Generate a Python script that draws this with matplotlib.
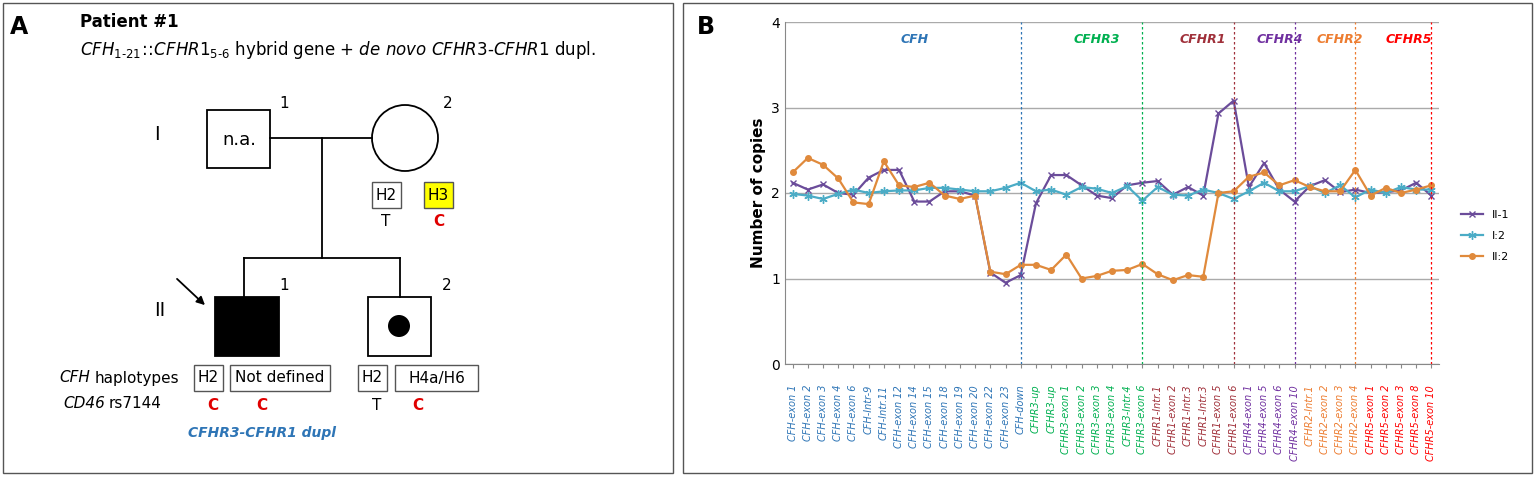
import matplotlib
matplotlib.use("Agg")
import matplotlib.pyplot as plt
from matplotlib.patches import Rectangle, Circle, FancyArrowPatch

labels = ["CFH-exon 1","CFH-exon 2","CFH-exon 3","CFH-exon 4","CFH-exon 6","CFH-Intr-9","CFH-Intr.11",
          "CFH-exon 12","CFH-exon 14","CFH-exon 15","CFH-exon 18","CFH-exon 19","CFH-exon 20","CFH-exon 22",
          "CFH-exon 23","CFH-down",
          "CFHR3-up","CFHR3-up","CFHR3-exon 1","CFHR3-exon 2","CFHR3-exon 3","CFHR3-exon 4","CFHR3-Intr.4","CFHR3-exon 6",
          "CFHR1-Intr.1","CFHR1-exon 2","CFHR1-Intr.3","CFHR1-Intr.3","CFHR1-exon 5","CFHR1-exon 6",
          "CFHR4-exon 1","CFHR4-exon 5","CFHR4-exon 6","CFHR4-exon 10",
          "CFHR2-Intr.1","CFHR2-exon 2","CFHR2-exon 3","CFHR2-exon 4",
          "CFHR5-exon 1","CFHR5-exon 2","CFHR5-exon 3","CFHR5-exon 8","CFHR5-exon 10"]
ii1 = [2.12,2.04,2.10,2.00,1.98,2.18,2.27,2.27,1.90,1.90,2.02,2.02,1.97,1.07,0.95,1.04,
       1.88,2.21,2.21,2.09,1.97,1.94,2.09,2.12,2.14,1.98,2.07,1.97,2.93,3.08,2.07,2.35,2.04,1.90,
       2.08,2.15,2.01,2.04,2.00,2.01,2.03,2.12,1.97]
i2 = [1.99,1.97,1.93,1.99,2.04,2.00,2.02,2.03,2.03,2.06,2.06,2.04,2.02,2.02,2.06,2.12,
      2.02,2.04,1.98,2.07,2.05,2.00,2.08,1.91,2.07,1.98,1.97,2.04,2.00,1.93,2.02,2.12,2.02,2.02,
      2.08,2.00,2.09,1.95,2.04,2.00,2.07,2.04,2.04]
ii2 = [2.24,2.41,2.33,2.17,1.89,1.87,2.37,2.09,2.07,2.12,1.97,1.93,1.97,1.08,1.05,1.16,
       1.16,1.10,1.28,1.00,1.03,1.09,1.10,1.17,1.05,0.98,1.04,1.02,2.00,2.02,2.19,2.24,2.09,2.15,
       2.07,2.02,2.02,2.27,1.97,2.06,2.00,2.04,2.09]
genes = ["CFH","CFHR3","CFHR1","CFHR4","CFHR2","CFHR5"]
gene_counts = [16,8,6,4,4,5]
gene_colors = ["#2E75B6","#00B050","#A0303A","#7030A0","#ED7D31","#FF0000"]

fig = plt.figure(figsize=(15.35,4.79), dpi=100)
W, H = 1535, 479
ov = fig.add_axes([0,0,1,1])
ov.set_xlim(0,W); ov.set_ylim(H,0); ov.axis("off")
ov.add_patch(Rectangle((3,3),670,470,fill=False,lw=1,ec="#555555"))
ov.add_patch(Rectangle((683,3),849,470,fill=False,lw=1,ec="#555555"))
ov.text(10,27,"A",fontsize=17,fontweight="bold",va="center")
ov.text(697,27,"B",fontsize=17,fontweight="bold",va="center")
ov.text(80,22,"Patient #1",fontsize=12,fontweight="bold",va="center")
ov.text(80,50,r"$\mathit{CFH}_{\mathit{1\text{-}21}}\!\mathit{:}\!\!\mathit{:}\!\mathit{CFHR1}_{5\text{-}6}$ hybrid gene + $\mathit{de\ novo\ CFHR3\text{-}CFHR1}$ dupl.",fontsize=12,va="center")
# pedigree
ov.add_patch(Rectangle((207,110),63,58,fill=False,lw=1.3))
ov.text(239,140,"n.a.",fontsize=13,ha="center",va="center")
ov.add_patch(Circle((405,138),33,fill=False,lw=1.3))
ov.plot([270,372],[138,138],color="k",lw=1.3)
ov.plot([322,322],[138,258],color="k",lw=1.3)
ov.plot([244,400],[258,258],color="k",lw=1.3)
ov.plot([244,244],[258,297],color="k",lw=1.3)
ov.plot([400,400],[258,297],color="k",lw=1.3)
ov.add_patch(Rectangle((215,297),64,59,fc="k",ec="k",lw=1.3))
ov.add_patch(Rectangle((368,297),63,59,fill=False,lw=1.3))
ov.add_patch(Circle((399,326),11,fc="k"))
ov.add_patch(FancyArrowPatch((175,277),(207,307),arrowstyle="-|>",mutation_scale=12,lw=1.3,color="k"))
for x,y,t in [(284,103,"1"),(448,103,"2"),(284,285,"1"),(447,285,"2")]:
    ov.text(x,y,t,fontsize=11,ha="center",va="center")
ov.text(157,135,"I",fontsize=14,ha="center",va="center")
ov.text(160,310,"II",fontsize=14,ha="center",va="center")
def hbox(x,w,y,t,fc="white"):
    ov.add_patch(Rectangle((x,y-13),w,26,fc=fc,ec="#555555",lw=1))
    ov.text(x+w/2,y,t,fontsize=11,ha="center",va="center")
hbox(372,29,195,"H2"); hbox(424,29,195,"H3",fc="#FFFF00")
ov.text(386,222,"T",fontsize=11,ha="center",va="center")
ov.text(439,222,"C",fontsize=11,ha="center",va="center",color="#E00000",fontweight="bold")
hbox(194,29,378,"H2"); hbox(230,100,378,"Not defined")
hbox(358,29,378,"H2"); hbox(395,83,378,"H4a/H6")
ov.text(179,378,"haplotypes",fontsize=11,ha="right",va="center")
ov.text(90,378,"CFH",fontsize=11,ha="right",va="center",style="italic")
ov.text(162,404,"rs7144",fontsize=11,ha="right",va="center")
ov.text(105,404,"CD46",fontsize=11,ha="right",va="center",style="italic")
for x,t,c in [(213,"C","#E00000"),(262,"C","#E00000"),(377,"T","k"),(418,"C","#E00000")]:
    ov.text(x,406,t,fontsize=11,ha="center",va="center",color=c,fontweight="bold" if c!="k" else "normal")
ov.text(262,433,"CFHR3-CFHR1 dupl",fontsize=10,ha="center",va="center",color="#2E75B6",style="italic",fontweight="bold")

# chart
ax = fig.add_axes([785/W, (H-364)/H, 654/W, 342/H])
x = list(range(len(labels)))
ax.plot(x, ii1, color="#6B4C9A", marker="x", ms=5, lw=1.6, label="II-1")
ax.plot(x, i2, color="#4BACC6", marker=(6,2,0), ms=6, lw=1.6, label="I:2")
ax.plot(x, ii2, color="#E08A3C", marker="o", ms=4, lw=1.6, label="II:2")
ax.set_xlim(-0.5, len(labels)-0.5); ax.set_ylim(0,4)
ax.set_yticks([0,1,2,3,4])
ax.yaxis.grid(True, color="#AAAAAA", lw=1)
ax.set_axisbelow(True)
ax.set_xticks(x)
tcols = []
for g,n,c in zip(genes,gene_counts,gene_colors):
    tcols += [c]*n
ax.set_xticklabels(labels, rotation=90, fontsize=7, style="italic")
ax.tick_params(axis="x", length=3, pad=12, colors="#888888")
for lab,c in zip(ax.get_xticklabels(), tcols):
    lab.set_color(c)
ax.tick_params(axis="y", length=0, labelsize=10)
for s in ["top","right"]:
    ax.spines[s].set_visible(False)
ax.spines["left"].set_color("#888888"); ax.spines["bottom"].set_color("#888888")
ax.set_ylabel("Number of copies", fontsize=11, fontweight="bold")
start = 0
for g,n,c in zip(genes,gene_counts,gene_colors):
    end = start+n-1
    ax.axvline(end, color=c, ls=(0,(2,2)), lw=0.9)
    ax.text((start+end)/2+0.5, 3.8, g, color=c, fontsize=9,
            style="italic", fontweight="bold", ha="center", va="center")
    start = end+1
fig.legend(loc="center", bbox_to_anchor=(1485/W, 1-236/H), frameon=False, fontsize=8,
           handlelength=2, labelspacing=1.0)
fig.savefig("out.png", dpi=100)
